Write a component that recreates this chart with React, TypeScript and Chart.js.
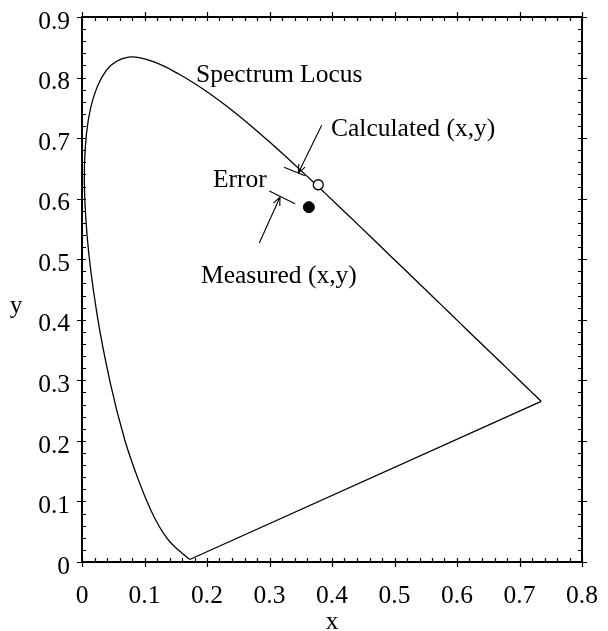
import React, { useEffect, useRef } from "react";
import { Chart, registerables } from "chart.js";

Chart.register(...registerables);

// CIE 1931 spectrum locus (read/estimated chromaticity coordinates), 380 nm ... 700 nm
const locusX = [0.1741, 0.1733, 0.1714, 0.1689, 0.1644, 0.1611, 0.1566, 0.151, 0.144, 0.1355, 0.1241, 0.1096, 0.0913, 0.0687, 0.0454, 0.0235, 0.0082, 0.0039, 0.0139, 0.0389, 0.0743, 0.1142, 0.1547, 0.1929, 0.2296, 0.2658, 0.3016, 0.3373, 0.3731, 0.4087, 0.4441, 0.4788, 0.5125, 0.5448, 0.5752, 0.6029, 0.627, 0.6482, 0.6658, 0.6801, 0.6915, 0.7079, 0.719, 0.726, 0.73, 0.7334, 0.7347];
const locusY = [0.005, 0.0048, 0.0051, 0.0069, 0.0109, 0.0138, 0.0177, 0.0227, 0.0297, 0.0399, 0.0578, 0.0868, 0.1327, 0.2007, 0.295, 0.4127, 0.5384, 0.6548, 0.7502, 0.812, 0.8338, 0.8262, 0.8059, 0.7816, 0.7543, 0.7243, 0.6923, 0.6589, 0.6245, 0.5896, 0.5547, 0.5202, 0.4866, 0.4544, 0.4242, 0.3965, 0.3725, 0.3514, 0.334, 0.3197, 0.3083, 0.292, 0.2809, 0.274, 0.27, 0.2666, 0.2653];
// purple line closing the locus
const purpleX = [0.7347, 0.1741];
const purpleY = [0.2653, 0.005];

const calculatedPoint = [0.378, 0.623];
const measuredPoint = [0.363, 0.586];

const xTicks = [0, 0.1, 0.2, 0.3, 0.4, 0.5, 0.6, 0.7, 0.8];
const xTickLabels = ["0", "0.1", "0.2", "0.3", "0.4", "0.5", "0.6", "0.7", "0.8"];
const yTicks = [0, 0.1, 0.2, 0.3, 0.4, 0.5, 0.6, 0.7, 0.8, 0.9];
const yTickLabels = ["0", "0.1", "0.2", "0.3", "0.4", "0.5", "0.6", "0.7", "0.8", "0.9"];
const minorStep = 0.02;

// annotations in data coordinates
const labelTexts = ["Spectrum Locus", "Calculated (x,y)", "Error", "Measured (x,y)"];
const labelX = [0.1824, 0.3984, 0.2096, 0.1904];
const labelY = [0.7919, 0.703, 0.6187, 0.4602];

// segments: [x1, y1, x2, y2, arrowhead at end]
const segX1 = [0.3835, 0.3232, 0.2997, 0.2837];
const segY1 = [0.7211, 0.6519, 0.6126, 0.5268];
const segX2 = [0.3461, 0.3568, 0.3408, 0.3168];
const segY2 = [0.6423, 0.6377, 0.5918, 0.6027];
const segArrow = [true, false, false, true];

const FONT = '"Liberation Serif", "Times New Roman", serif';
const FONT_SIZE = 25.5;

const decorPlugin = {
  id: "decor",
  afterDatasetsDraw(chart: any) {
    const ctx = chart.ctx;
    const xs = chart.scales.x;
    const ys = chart.scales.y;
    const a = chart.chartArea;
    ctx.save();
    ctx.strokeStyle = "#000";
    ctx.fillStyle = "#000";

    // frame
    ctx.lineWidth = 2;
    ctx.strokeRect(a.left, a.top, a.right - a.left, a.bottom - a.top);

    // ticks
    ctx.lineWidth = 1.2;
    const xmin = xs.min, xmax = xs.max, ymin = ys.min, ymax = ys.max;
    ctx.beginPath();
    for (let i = 0; xmin + i * minorStep <= xmax + 1e-9; i++) {
      const v = xmin + i * minorStep;
      const px = Math.round(xs.getPixelForValue(v)) + 0.5;
      const major = i % 5 === 0;
      const inner = 4, outer = major ? 5 : 0;
      ctx.moveTo(px, a.bottom + outer);
      ctx.lineTo(px, a.bottom - inner);
      ctx.moveTo(px, a.top - outer);
      ctx.lineTo(px, a.top + inner);
    }
    for (let i = 0; ymin + i * minorStep <= ymax + 1e-9; i++) {
      const v = ymin + i * minorStep;
      const py = Math.round(ys.getPixelForValue(v)) + 0.5;
      const major = i % 5 === 0;
      const inner = 4, outer = major ? 5 : 0;
      ctx.moveTo(a.left - outer, py);
      ctx.lineTo(a.left + inner, py);
      ctx.moveTo(a.right + outer, py);
      ctx.lineTo(a.right - inner, py);
    }
    ctx.stroke();

    // annotation segments and arrowheads
    ctx.lineWidth = 1.1;
    for (let i = 0; i < segX1.length; i++) {
      const x1 = xs.getPixelForValue(segX1[i]);
      const y1 = ys.getPixelForValue(segY1[i]);
      const x2 = xs.getPixelForValue(segX2[i]);
      const y2 = ys.getPixelForValue(segY2[i]);
      ctx.beginPath();
      ctx.moveTo(x1, y1);
      ctx.lineTo(x2, y2);
      if (segArrow[i]) {
        const ang = Math.atan2(y2 - y1, x2 - x1);
        const L = 9, spread = 0.4;
        ctx.moveTo(x2, y2);
        ctx.lineTo(x2 - L * Math.cos(ang - spread), y2 - L * Math.sin(ang - spread));
        ctx.moveTo(x2, y2);
        ctx.lineTo(x2 - L * Math.cos(ang + spread), y2 - L * Math.sin(ang + spread));
      }
      ctx.stroke();
    }

    // annotation texts
    ctx.font = `${FONT_SIZE}px ${FONT}`;
    ctx.textAlign = "left";
    ctx.textBaseline = "alphabetic";
    for (let i = 0; i < labelTexts.length; i++) {
      ctx.fillText(labelTexts[i], xs.getPixelForValue(labelX[i]), ys.getPixelForValue(labelY[i]));
    }

    // axis titles
    ctx.textAlign = "center";
    ctx.textBaseline = "middle";
    ctx.fillText("x", (a.left + a.right) / 2, chart.height - 9);
    ctx.fillText("y", 16, (a.top + a.bottom) / 2 + 17);
    ctx.restore();
  },
};

export default function App() {
  const ref = useRef<HTMLCanvasElement>(null);
  useEffect(() => {
    const canvas = ref.current;
    if (!canvas) return;
    const locus = locusX.map((x, i) => ({ x, y: locusY[i] }));
    const purple = purpleX.map((x, i) => ({ x, y: purpleY[i] }));
    const chart = new Chart(canvas, {
      type: "scatter",
      data: {
        datasets: [
          {
            data: [{ x: calculatedPoint[0], y: calculatedPoint[1] }],
            pointRadius: 5,
            pointBackgroundColor: "#fff",
            pointBorderColor: "#000",
            pointBorderWidth: 1.3,
          },
          {
            data: [{ x: measuredPoint[0], y: measuredPoint[1] }],
            pointRadius: 5.5,
            pointBackgroundColor: "#000",
            pointBorderColor: "#000",
            pointBorderWidth: 1,
          },
          {
            data: locus,
            showLine: true,
            borderColor: "#000",
            borderWidth: 1.3,
            pointRadius: 0,
            tension: 0.35,
            fill: false,
          },
          {
            data: purple,
            showLine: true,
            borderColor: "#000",
            borderWidth: 1.3,
            pointRadius: 0,
            tension: 0,
            fill: false,
          },
        ],
      },
      options: {
        responsive: false,
        animation: false,
        events: [],
        layout: { padding: { top: 17, right: 26, left: 0, bottom: 0 } },
        plugins: { legend: { display: false }, tooltip: { enabled: false } },
        scales: {
          x: {
            type: "linear",
            min: 0,
            max: 0.8,
            afterBuildTicks: (s: any) => {
              s.ticks = xTicks.map((v) => ({ value: v }));
            },
            afterFit: (s: any) => {
              s.height = 69;
              s.paddingLeft = 0;
              s.paddingRight = 0;
              s.paddingTop = 0;
              s.paddingBottom = 0;
            },
            ticks: {
              callback: (_v: any, i: number) => xTickLabels[i],
              font: { family: FONT, size: FONT_SIZE },
              color: "#000",
              padding: 19,
              maxRotation: 0,
              autoSkip: false,
            },
            grid: { display: false, drawTicks: false },
            border: { display: false },
          },
          y: {
            type: "linear",
            min: 0,
            max: 0.9,
            afterBuildTicks: (s: any) => {
              s.ticks = yTicks.map((v) => ({ value: v }));
            },
            afterFit: (s: any) => {
              s.width = 82;
              s.paddingLeft = 0;
              s.paddingRight = 0;
              s.paddingTop = 0;
              s.paddingBottom = 0;
            },
            ticks: {
              callback: (_v: any, i: number) => yTickLabels[i],
              font: { family: FONT, size: FONT_SIZE },
              color: "#000",
              padding: 12,
              labelOffset: 5,
              autoSkip: false,
            },
            grid: { display: false, drawTicks: false },
            border: { display: false },
          },
        },
      },
      plugins: [decorPlugin],
    });
    return () => chart.destroy();
  }, []);
  return (
    <div style={{ position: "absolute", left: 0, top: 0, width: 608, height: 631, background: "#fff" }}>
      <canvas ref={ref} width={608} height={631} style={{ display: "block" }} />
    </div>
  );
}
